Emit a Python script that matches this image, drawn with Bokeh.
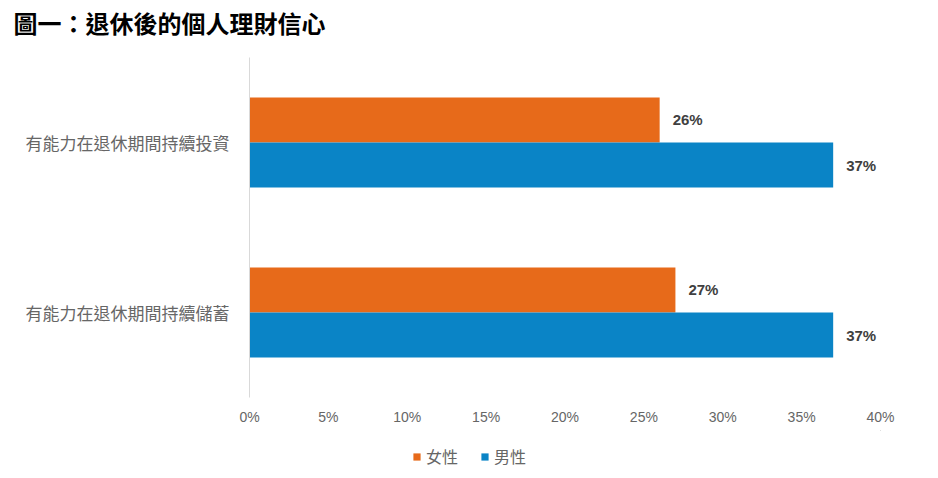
from bokeh.plotting import figure
from bokeh.models import (FactorRange, Range1d, ColumnDataSource, Legend, LegendItem,
                          PrintfTickFormatter, FixedTicker, Title)
from bokeh.layouts import column
from bokeh.transform import dodge
from bokeh.core.properties import value
from bokeh.embed import file_html
from bokeh.resources import INLINE

title_text = "圖一：退休後的個人理財信心"
categories = ["有能力在退休期間持續投資", "有能力在退休期間持續儲蓄"]
series_names = ["女性", "男性"]
female = [26, 27]
male = [37, 37]
x_ticks = [0, 5, 10, 15, 20, 25, 30, 35, 40]

ORANGE = "#E76A1A"
BLUE = "#0A84C6"
CJK = "Noto Sans CJK TC"

src = ColumnDataSource(dict(
    cat=categories,
    female=female,
    male=male,
    female_lbl=[f"{v}%" for v in female],
    male_lbl=[f"{v}%" for v in male],
))

p = figure(width=922, height=430, output_backend="svg", toolbar_location=None,
           y_range=FactorRange(factors=categories[::-1], range_padding=0),
           x_range=Range1d(0, 40),
           min_border_left=249, min_border_right=42, min_border_top=57, min_border_bottom=33)

# title: a thin spacer next to the frame, then the real title further out
p.title.text = ""
p.title.standoff = 0
spacer = Title(text=" ", text_font_size="1px", standoff=15)
p.add_layout(spacer, "above")
main_title = Title(text=title_text, text_font=CJK, text_font_size="24px",
                   text_font_style="bold", text_color="#000000",
                   align="left", offset=-236, standoff=0)
p.add_layout(main_title, "above")

bh = 0.265
off = 0.1325
r_f = p.hbar(y=dodge("cat", off, range=p.y_range), right="female", left=0, height=bh,
             source=src, fill_color=ORANGE, line_color=None)
r_m = p.hbar(y=dodge("cat", -off, range=p.y_range), right="male", left=0, height=bh,
             source=src, fill_color=BLUE, line_color=None)

p.text(x="female", y=dodge("cat", off, range=p.y_range), text="female_lbl", source=src,
       x_offset=13, text_align="left", text_baseline="middle",
       text_font=value("Liberation Sans"), text_font_style="bold",
       text_font_size="15px", text_color="#404040")
p.text(x="male", y=dodge("cat", -off, range=p.y_range), text="male_lbl", source=src,
       x_offset=13, text_align="left", text_baseline="middle",
       text_font=value("Liberation Sans"), text_font_style="bold",
       text_font_size="15px", text_color="#404040")

p.xgrid.visible = False
p.ygrid.visible = False
p.outline_line_color = None

p.xaxis.ticker = FixedTicker(ticks=x_ticks)
p.xaxis.formatter = PrintfTickFormatter(format="%d%%")
p.xaxis.axis_line_color = None
p.xaxis.major_tick_line_color = None
p.xaxis.minor_tick_line_color = None
p.xaxis.major_label_text_font = "Liberation Sans"
p.xaxis.major_label_text_font_size = "14px"
p.xaxis.major_label_text_color = "#666666"
p.xaxis.major_label_standoff = 5

p.yaxis.axis_line_color = "#D9D9D9"
p.yaxis.major_tick_line_color = None
p.yaxis.minor_tick_line_color = None
p.yaxis.major_label_text_font = CJK
p.yaxis.major_label_text_font_size = "17px"
p.yaxis.major_label_text_color = "#666666"
p.yaxis.major_label_standoff = 14

# legend strip (separate small figure below the chart); its bars fall outside its ranges
lg = figure(width=922, height=44, output_backend="svg", toolbar_location=None,
            x_range=Range1d(-2, -1), y_range=Range1d(-2, -1),
            min_border_left=0, min_border_right=0, min_border_top=0, min_border_bottom=0)
lg.axis.visible = False
lg.grid.visible = False
lg.outline_line_color = None
lr_f = lg.hbar(y="female", right="female", left=0, height=1, source=src,
               fill_color=ORANGE, line_color=None)
lr_m = lg.hbar(y="male", right="male", left=0, height=1, source=src,
               fill_color=BLUE, line_color=None)
legend = Legend(items=[LegendItem(label=series_names[0], renderers=[lr_f]),
                       LegendItem(label=series_names[1], renderers=[lr_m])],
                orientation="horizontal", location=(163, 6),
                glyph_width=9, glyph_height=9, label_standoff=5, spacing=22,
                padding=0, margin=0, border_line_color=None, background_fill_alpha=0,
                label_text_font=CJK, label_text_font_size="16px", label_text_color="#666666")
lg.add_layout(legend, "center")

open("out.html", "w").write(file_html(column(p, lg, spacing=0), INLINE))
